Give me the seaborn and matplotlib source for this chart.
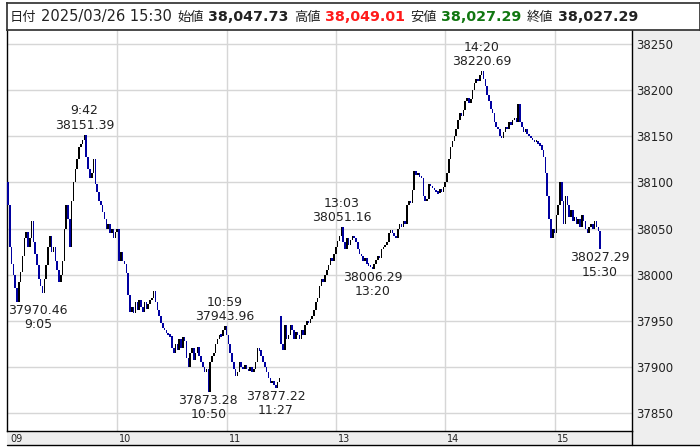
"""
plot.py - 日経平均 1分足チャート (2025/03/26)
"""

import matplotlib
matplotlib.use("Agg")
import matplotlib.pyplot as plt
import matplotlib.transforms as mtrans
from matplotlib.patches import Rectangle
import pandas as pd
import seaborn as sns

# 前場 9:00-11:29 の終値 (1分足)
am_open = 38100
am_close = [
    38075, 38030, 38012, 38000, 37985, 37970.46, 37992, 38003, 38020, 38040,   # 9:00
    38046, 38030, 38040, 38058, 38035, 38022, 38010, 37995, 37988, 37980,      # 9:10
    37995, 38010, 38030, 38042, 38025, 38030, 38015, 38005, 37992, 38000,      # 9:20
    38015, 38050, 38075, 38060, 38030, 38080, 38100, 38115, 38125, 38138,      # 9:30
    38142, 38146, 38151.39, 38128, 38115, 38105, 38110, 38125, 38098, 38090,   # 9:40
    38080, 38075, 38068, 38060, 38050, 38055, 38045, 38050, 38040, 38046,      # 9:50
    38050, 38015, 38025, 38015, 38012, 38002, 37978, 37960, 37965, 37958,      # 10:00
    37970, 37962, 37972, 37965, 37960, 37970, 37963, 37968, 37972, 37975,      # 10:10
    37982, 37970, 37962, 37955, 37948, 37942, 37940, 37937, 37935, 37933,      # 10:20
    37920, 37915, 37925, 37918, 37930, 37920, 37932, 37928, 37910, 37900,      # 10:30
    37915, 37920, 37908, 37915, 37922, 37912, 37905, 37900, 37895, 37898,      # 10:40
    37873.28, 37905, 37912, 37915, 37925, 37930, 37935, 37933, 37940, 37943.96,  # 10:50
    37935, 37925, 37915, 37905, 37898, 37890, 37895, 37905, 37900, 37898,      # 11:00
    37902, 37898, 37896, 37900, 37895, 37898, 37905, 37920, 37918, 37912,      # 11:10
    37905, 37900, 37895, 37888, 37882, 37885, 37880, 37877.22, 37884, 37888,   # 11:20
]

# 後場 12:30-15:24 + 大引け
pm_open = 37955
pm_close = [
    37925, 37918, 37945, 37930, 37935, 37945, 37940, 37930, 37938, 37935,      # 12:30
    37930, 37940, 37935, 37945, 37950, 37948, 37952, 37955, 37962, 37970,      # 12:40
    37975, 37988, 37995, 37992, 38000, 38005, 38010, 38018, 38015, 38022,      # 12:50
    38030, 38036, 38042, 38051.16, 38035, 38028, 38040, 38032, 38038, 38042,   # 13:00
    38040, 38035, 38028, 38022, 38020, 38015, 38018, 38012, 38010, 38008,      # 13:10
    38006.29, 38012, 38016, 38020, 38018, 38028, 38030, 38032, 38035, 38045,   # 13:20
    38048, 38045, 38042, 38040, 38050, 38055, 38052, 38058, 38055, 38075,      # 13:30
    38080, 38078, 38092, 38112, 38108, 38110, 38106, 38105, 38085, 38080,      # 13:40
    38082, 38098, 38096, 38094, 38092, 38090, 38088, 38093, 38090, 38095,      # 13:50
    38100, 38110, 38125, 38138, 38145, 38150, 38158, 38168, 38175, 38172,      # 14:00
    38178, 38188, 38192, 38186, 38190, 38200, 38208, 38212, 38210, 38216,      # 14:10
    38220.69, 38212, 38205, 38195, 38188, 38180, 38175, 38165, 38160, 38158,   # 14:20
    38150, 38148, 38155, 38160, 38158, 38165, 38162, 38168, 38170, 38166,      # 14:30
    38185, 38165, 38160, 38155, 38158, 38152, 38150, 38148, 38146, 38144,      # 14:40
    38145, 38142, 38140, 38135, 38128, 38110, 38085, 38060, 38040, 38050,      # 14:50
    38045, 38065, 38075, 38100, 38080, 38055, 38085, 38075, 38062, 38070,      # 15:00
    38058, 38062, 38055, 38060, 38052, 38065, 38058, 38050, 38045, 38052,      # 15:10
    38055, 38050, 38058, 38052, 38047.73, 38027.29,                            # 15:20, 大引け
]

hour_labels = ["09", "10", "11", "13", "14", "15"]
hour_index = [0, 60, 120, 180, 240, 300]
price_ticks = [37850, 37900, 37950, 38000, 38050, 38100, 38150, 38200, 38250]

# 高値・安値の注記
ann_time = ["9:05", "9:42", "10:50", "10:59", "11:27", "13:03", "13:20", "14:20", "15:30"]
ann_index = [5, 42, 110, 119, 147, 183, 200, 260, 325]
ann_kind = ["low", "high", "low", "high", "low", "high", "low", "high", "low"]
ann_shift = [21, 0, 0, 0, 0, 0, 0, 0, 0]  # px

# ヘッダー
hdr_date = "2025/03/26 15:30"
hdr_names = ["始値", "高値", "安値", "終値"]
hdr_values = [38047.73, 38049.01, 38027.29, 38027.29]
hdr_colors = ["#222222", "#ff1a1a", "#117711", "#222222"]

UP, DOWN = "#000000", "#0000a0"

sns.set_theme(style="white")
plt.rcParams["font.family"] = ["DejaVu Sans", "Noto Sans CJK JP"]

df = pd.DataFrame({"close": am_close + pm_close})
df["open"] = df["close"].shift(1)
df.loc[0, "open"] = am_open
df.loc[len(am_close), "open"] = pm_open
df["lo"] = df[["open", "close"]].min(axis=1)
df["hi"] = df[["open", "close"]].max(axis=1)
df["color"] = [UP if c >= o else DOWN for o, c in zip(df["open"], df["close"])]
# 細すぎる足は最低限の高さで描く
body = (df["hi"] - df["lo"]).clip(lower=2.5)
mid = (df["hi"] + df["lo"]) / 2
bottom = df["lo"].where(df["hi"] - df["lo"] >= 2.5, mid - 1.25)

W, H = 700, 448
fig = plt.figure(figsize=(W / 100, H / 100), dpi=100)
fig.patch.set_facecolor("white")

# 右の価格軸と下の時間軸の灰色帯
fig.add_artist(Rectangle((632 / W, 3 / H), 68 / W, 442 / H, transform=fig.transFigure,
                         facecolor="#eeeeee", edgecolor="none", zorder=-2))
fig.add_artist(Rectangle((7 / W, 3 / H), 625 / W, 14 / H, transform=fig.transFigure,
                         facecolor="#eeeeee", edgecolor="none", zorder=-2))

ax = fig.add_axes([7 / W, 17 / H, 625 / W, 401 / H])
ax.set_facecolor("white")
ax.bar(df.index, body, bottom=bottom, width=0.85,
       color=df["color"], linewidth=0, zorder=3)

ax.set_xlim(-0.5, 342.5)
ax.set_ylim(37830.5, 38265.2)
for h in hour_index[1:]:
    ax.axvline(h, color="#d6d6d6", lw=1, zorder=1)
for p in price_ticks:
    ax.axhline(p, color="#d6d6d6", lw=1, zorder=1)

ax.yaxis.tick_right()
ax.set_yticks(price_ticks)
ax.set_yticklabels([str(p) for p in price_ticks], fontsize=8.5, color="#222222")
ax.set_xticks(hour_index)
ax.set_xticklabels(hour_labels, fontsize=7, color="#222222", ha="left",
                   family="DejaVu Sans")
ax.tick_params(axis="both", length=0)
ax.tick_params(axis="y", pad=3)
ax.tick_params(axis="x", pad=2.5)
shift = mtrans.ScaledTranslation(2 / 100, 0, fig.dpi_scale_trans)
for lab in ax.get_xticklabels():
    lab.set_transform(lab.get_transform() + shift)

for s in ["left", "right", "bottom"]:
    ax.spines[s].set_color("black")
    ax.spines[s].set_linewidth(1)
ax.spines["top"].set_visible(False)

for t, i, k, sh in zip(ann_time, ann_index, ann_kind, ann_shift):
    v = df.loc[i, "close"]
    if k == "high":
        txt, y, dy, va = f"{t}\n{v:.2f}", df.loc[i, "hi"], 3, "bottom"
    else:
        txt, y, dy, va = f"{v:.2f}\n{t}", df.loc[i, "lo"], -2, "top"
    ax.annotate(txt, xy=(i, y), xytext=(sh * 0.72, dy * 0.72), textcoords="offset points",
                ha="center", va=va, fontsize=9, color="#222222", linespacing=1.15,
                annotation_clip=False, zorder=5)

# 下端の枠線
fig.add_artist(plt.Line2D([7 / W, 1], [3 / H, 3 / H], transform=fig.transFigure,
                          color="black", lw=1))
fig.add_artist(plt.Line2D([632 / W, 632 / W], [3 / H, 17 / H], transform=fig.transFigure,
                          color="black", lw=1))

# ヘッダー
hx = fig.add_axes([7 / W, 418 / H, 693 / W, 27 / H])
hx.set_xticks([]); hx.set_yticks([])
hx.set_facecolor("white")
for s in hx.spines.values():
    s.set_color("#333333")
base = 0.33
prev = hx.text(3 / 693, base, "日付", fontsize=9.5, color="#222222", va="baseline",
               family="Noto Sans CJK JP")
items = [(hdr_date, "normal", "#222222")]
for n, v, c in zip(hdr_names, hdr_values, hdr_colors):
    items.append((n, "cjk", "#222222"))
    items.append((f"{v:,.2f}", "bold", c))
for s, w, c in items:
    kw = dict(fontsize=10.5, fontweight="normal")
    if w == "bold":
        kw = dict(fontsize=10.3, fontweight="bold")
    elif w == "cjk":
        kw = dict(fontsize=9.5, family="Noto Sans CJK JP")
    prev = hx.annotate(s, xy=(1, base), xycoords=(prev, "axes fraction"),
                       xytext=(3.5, 0), textcoords="offset points",
                       color=c, va="baseline", ha="left", **kw)

fig.savefig("out.png", dpi=100)
